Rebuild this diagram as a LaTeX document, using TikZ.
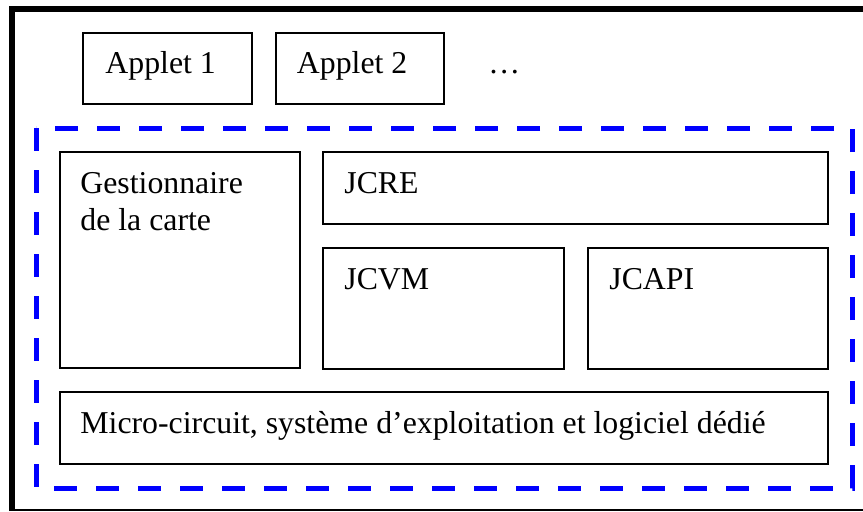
\documentclass[tikz,border=0pt]{standalone}
\usepackage{fontspec}
\setmainfont{Liberation Serif}
\usetikzlibrary{positioning}

\begin{document}
\begin{tikzpicture}[x=0.5pt, y=-0.5pt,
    blk/.style={draw, line width=1pt, inner sep=0pt, outer sep=0pt},
    lbl/.style={anchor=base west, inner sep=0pt, align=left,
        font=\fontsize{15.9}{18.5}\selectfont}]
                        \useasboundingbox (0, 0) rectangle (863, 511);

                        % outer frame
                        \draw[line width=3pt] (12, 511) -- (12, 8.5) -- (863, 8.5);
                        \draw[line width=0.75pt] (12, 510) -- (863, 510);

                        % applets
                        \node[blk, minimum width=84.5pt, minimum height=35.5pt] (app1) at (167.5, 68.5) {};
                        \node[blk, minimum width=84pt, minimum height=35.5pt] (app2) at (359.5, 68.5) {};
                        \node[lbl] (app1t) at ([shift={(11pt, -20pt)}]app1.north west) {Applet 1};
                        \node[lbl] (app2t) at ([shift={(10.5pt, -20pt)}]app2.north west) {Applet 2};
                        \node[lbl] (dots) at (488, 73) {…};

                        % card platform
                        \draw[blue, line width=2.5pt, dash pattern=on 11.5pt off 9.5pt] (36, 128) rectangle (852, 488);

                        \node[blk, minimum width=120pt, minimum height=108pt] (gest) at (180, 260) {};
                        \node[blk, minimum width=252.5pt, minimum height=36pt] (jcre) at (575.5, 188) {};
                        \node[blk, minimum width=120.5pt, minimum height=60.5pt] (jcvm) at (443.5, 308.5) {};
                        \node[blk, minimum width=120pt, minimum height=60.5pt] (jcapi) at (708, 308.5) {};
                        \node[blk, minimum width=384pt, minimum height=36pt] (micro) at (444, 428) {};

                        % the base of a two-line node is its last line
                        \node[lbl] (gestt) at ([shift={(10pt, -39pt)}]gest.north west) {Gestionnaire\\de la carte};
                        \node[lbl] (jcret) at ([shift={(10.5pt, -20.5pt)}]jcre.north west) {JCRE};
                        \node[lbl] (jcvmt) at ([shift={(10.5pt, -20.5pt)}]jcvm.north west) {JCVM};
                        \node[lbl] (jcapit) at ([shift={(10.5pt, -20.5pt)}]jcapi.north west) {JCAPI};
                        \node[lbl] (microt) at ([shift={(10pt, -20.5pt)}]micro.north west) {Micro-circuit, système d’exploitation et logiciel dédié};
                    \end{tikzpicture}
\end{document}
